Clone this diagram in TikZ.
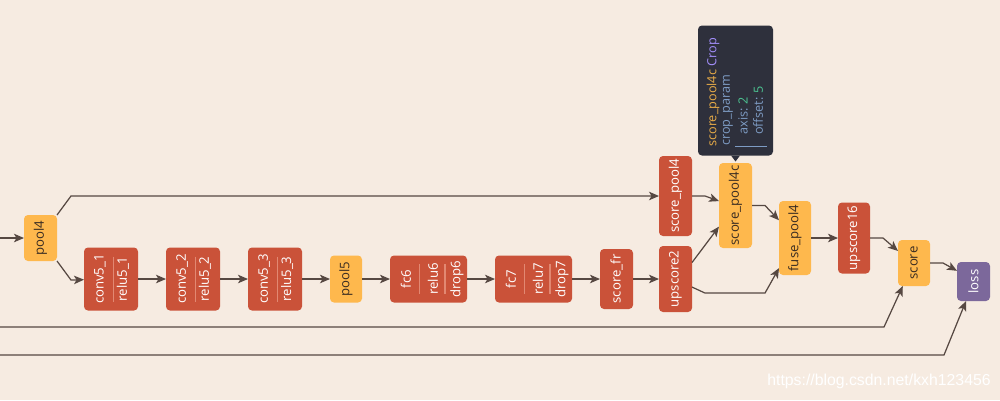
\documentclass[tikz,border=0pt]{standalone}
\usepackage{fontspec}
\setsansfont{Open Sans}
\newfontfamily\markfont{Liberation Sans}
\usepackage{graphicx}
\usepackage{xcolor}
\usetikzlibrary{arrows.meta,positioning}

\definecolor{pagebg}{RGB}{246,235,225}
\definecolor{layred}{RGB}{202,82,57}
\definecolor{layyel}{RGB}{254,184,77}
\definecolor{laypur}{RGB}{124,104,155}
\definecolor{edge}{RGB}{86,72,66}
\definecolor{sepcol}{RGB}{226,136,114}
\definecolor{darktxt}{RGB}{58,44,34}
\definecolor{tipbg}{RGB}{46,48,60}
\definecolor{tipname}{RGB}{232,172,72}
\definecolor{tipop}{RGB}{162,142,250}
\definecolor{tipkey}{RGB}{126,156,196}
\definecolor{tipval}{RGB}{76,196,146}

\begin{document}
\begin{tikzpicture}[x=0.2mm, y=-0.2mm,
  box/.style={rounded corners=0.8mm, inner sep=0pt, outer sep=0pt, font=\sffamily\fontsize{7.5}{9}\selectfont},
  redbox/.style={box, fill=layred, text=white},
  yelbox/.style={box, fill=layyel, text=darktxt},
  wtxt/.style={rotate=90, inner sep=0pt, text=white, font=\sffamily\fontsize{7.5}{9}\selectfont},
  tiptxt/.style={rotate=90, anchor=west, inner sep=0pt, text=tipkey, font=\sffamily\fontsize{7.2}{9}\selectfont},
  sepline/.style={draw=sepcol, line width=0.6pt},
  arrow/.style={-{Stealth[length=2mm, width=1.7mm, inset=0.5mm]}, draw=edge, line width=0.7pt}
]
\fill[pagebg] (0,0) rectangle (1000,400);
\useasboundingbox (0,0) rectangle (1000,400);

% layers
\node[yelbox, minimum width=6.6mm, minimum height=9.2mm] (pool4) at (40.5,238) {\rotatebox{90}{pool4}};
\node[redbox, minimum width=10.8mm, minimum height=12.6mm] (c51) at (111,279) {};
\node[redbox, minimum width=10.8mm, minimum height=12.6mm, right=5.6mm of c51] (c52) {};
\node[redbox, minimum width=10.8mm, minimum height=12.6mm, right=5.6mm of c52] (c53) {};
\node[yelbox, minimum width=6.4mm, minimum height=9.4mm, right=5.6mm of c53] (pool5) {\rotatebox{90}{pool5}};
\node[redbox, minimum width=15.4mm, minimum height=9.4mm, right=5.6mm of pool5] (fc6) {};
\node[redbox, minimum width=15.4mm, minimum height=9.4mm, right=5.6mm of fc6] (fc7) {};
\node[redbox, minimum width=6.6mm, minimum height=12mm, right=5.6mm of fc7] (sfr) {\rotatebox{90}{score\_fr}};
\node[redbox, minimum width=6.6mm, minimum height=13.2mm, right=5.2mm of sfr] (up2) {\rotatebox{90}{upscore2}};
\node[redbox, minimum width=6.6mm, minimum height=16mm, above=2mm of up2] (sp4) {\rotatebox{90}{score\_pool4}};
\node[yelbox, minimum width=6.6mm, minimum height=17mm] (sp4c) at (735.5,205.5) {\rotatebox{90}{score\_pool4c}};
\node[yelbox, minimum width=6.4mm, minimum height=14.8mm] (fuse) at (795,238) {\rotatebox{90}{fuse\_pool4}};
\node[redbox, minimum width=6.4mm, minimum height=14.2mm, right=5.4mm of fuse] (up16) {\rotatebox{90}{upscore16}};
\node[yelbox, minimum width=6.4mm, minimum height=9.2mm] (score) at (914,263) {\rotatebox{90}{score}};
\node[box, fill=laypur, text=white, minimum width=6.6mm, minimum height=7.8mm] (loss) at (973.5,281.5) {\rotatebox{90}{loss}};

% fused blocks
\foreach \n/\k in {c51/1,c52/2,c53/3}{
  \node[wtxt] (\n-a) at ([xshift=-2.2mm]\n.center) {conv5\_\k};
  \node[wtxt] (\n-b) at ([xshift=2.4mm]\n.center) {relu5\_\k};
  \draw[sepline] ([xshift=0.46mm, yshift=4.5mm]\n.center) -- ([xshift=0.46mm, yshift=-4.5mm]\n.center);
}
\foreach \n/\k in {fc6/6,fc7/7}{
  \node[wtxt] (\n-a) at ([xshift=-4.5mm]\n.center) {fc\k};
  \node[wtxt] (\n-b) at ([xshift=0.9mm]\n.center) {relu\k};
  \node[wtxt] (\n-c) at ([xshift=5.7mm]\n.center) {drop\k};
  \draw[sepline] ([xshift=-1.8mm, yshift=3mm]\n.center) -- ([xshift=-1.8mm, yshift=-3mm]\n.center);
  \draw[sepline] ([xshift=3.3mm, yshift=3mm]\n.center) -- ([xshift=3.3mm, yshift=-3mm]\n.center);
}

% tooltip
\node[box, fill=tipbg, minimum width=15mm, minimum height=26mm] (tip) at (735.5,90.5) {};
\fill[tipbg] (tip.south) ++(-4.5,0) -- ++(9,0) -- ++(-4.5,6) -- cycle;
\node[tiptxt] (tipa) at (713,147) {\textcolor{tipname}{score\_pool4c}\ \textcolor{tipop}{Crop}};
\node[tiptxt] (tipb) at (728,146) {crop\_param};
\node[tiptxt] (tipc) at (743,135) {axis: \textcolor{tipval}{2}};
\node[tiptxt] (tipd) at (758,135) {offset: \textcolor{tipval}{5}};
\draw[tipkey, line width=0.5pt] (735,146) -- (767,146);

% edges
\coordinate (inA) at (0,238);
\coordinate (inB) at (0,327);
\coordinate (inC) at (0,355);
\draw[arrow] (inA) -- (pool4);
\draw[arrow] (pool4.north east) -- ++(14,-19) -- (sp4);
\draw[arrow] (pool4.south east) -- ++(14,19) -- (c51);
\foreach \a/\b in {c51/c52,c52/c53,c53/pool5,pool5/fc6,fc6/fc7,fc7/sfr,sfr/up2}
  \draw[arrow] (\a) -- (\b);
\draw[arrow] (sp4.east) -- ++(13,0) -- (sp4c.165);
\draw[arrow] (up2.45) -- (sp4c.232);
\draw[arrow] (up2.334) -- ++(13,6) -- ++(60,0) -- (fuse.242);
\draw[arrow] (sp4c.east) -- ++(13,0) -- (fuse.132);
\draw[arrow] (fuse) -- (up16);
\draw[arrow] (up16.east) -- ++(13,0) -- (score.143);
\draw[arrow] (score.east) -- ++(13,0) -- (loss.147);
\draw[arrow] (inB) -- ++(884,0) -- (score.244);
\draw[arrow] (inC) -- ++(944,0) -- (loss.249);

\node[font=\markfont\fontsize{9}{10}\selectfont, text=white, anchor=east, inner sep=0pt] (wmark) at (991,381) {https://blog.csdn.net/kxh123456};
\end{tikzpicture}
\end{document}
